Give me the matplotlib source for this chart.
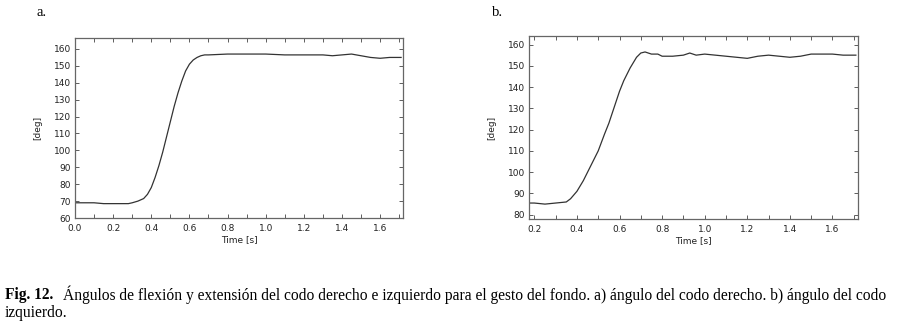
import matplotlib
matplotlib.use("Agg")
import matplotlib.pyplot as plt
from matplotlib.ticker import MultipleLocator, FormatStrFormatter

# panel a: right elbow angle
time_a = [0.0, 0.1, 0.15, 0.2, 0.28, 0.3, 0.33, 0.36, 0.38, 0.4, 0.42, 0.44, 0.46,
          0.48, 0.5, 0.52, 0.54, 0.56, 0.58, 0.6, 0.62, 0.64, 0.66, 0.68, 0.7,
          0.8, 0.9, 1.0, 1.1, 1.2, 1.3, 1.35, 1.4, 1.45, 1.5, 1.55, 1.6, 1.65, 1.71]
angle_a = [69, 69, 68.5, 68.5, 68.5, 69, 70, 71.5, 74, 78, 84, 91, 99,
           108, 117, 126, 134, 141, 147, 151, 153.5, 155, 156, 156.5, 156.5,
           157, 157, 157, 156.5, 156.5, 156.5, 156, 156.5, 157, 156, 155, 154.5, 155, 155]

# panel b: left elbow angle
time_b = [0.175, 0.2, 0.25, 0.3, 0.35, 0.37, 0.4, 0.43, 0.46, 0.5, 0.53, 0.55, 0.57,
          0.6, 0.62, 0.65, 0.68, 0.7, 0.72, 0.75, 0.78, 0.8, 0.85, 0.9, 0.93, 0.96,
          1.0, 1.05, 1.1, 1.2, 1.25, 1.3, 1.35, 1.4, 1.45, 1.5, 1.6, 1.65, 1.71]
angle_b = [85.5, 85.5, 85, 85.5, 86, 87.5, 91, 96, 102, 110, 118, 123, 129,
           138, 143, 149, 154, 156, 156.5, 155.5, 155.5, 154.5, 154.5, 155, 156, 155,
           155.5, 155, 154.5, 153.5, 154.5, 155, 154.5, 154, 154.5, 155.5, 155.5, 155, 155]

W, H = 897, 323
fig = plt.figure(figsize=(W / 100, H / 100), dpi=100)


def px_axes(left, top, right, bottom):
    return fig.add_axes([left / W, 1 - bottom / H, (right - left) / W, (bottom - top) / H])


def style(ax, xlim, ylim):
    ax.set_xlim(*xlim)
    ax.set_ylim(*ylim)
    ax.xaxis.set_major_locator(MultipleLocator(0.2))
    ax.xaxis.set_minor_locator(MultipleLocator(0.1))
    ax.xaxis.set_major_formatter(FormatStrFormatter("%.1f"))
    ax.yaxis.set_major_locator(MultipleLocator(10))
    ax.tick_params(which="both", direction="in", top=True, right=True,
                   length=3, width=0.6, color="#444444",
                   labelsize=6.5, labelcolor="#222222")
    ax.tick_params(axis="x", pad=4)
    ax.tick_params(axis="y", pad=3)
    for sp in ax.spines.values():
        sp.set_color("#666666")
        sp.set_linewidth(0.9)
    ax.set_xlabel("Time [s]", fontsize=6.5, labelpad=2, color="#222222")
    ax.set_ylabel("[deg]", fontsize=6.5, labelpad=8, color="#222222")


ax_a = px_axes(75, 38, 403, 218)
ax_a.plot(time_a, angle_a, color="#333333", lw=0.9)
style(ax_a, (0, 1.72), (60, 166.5))

ax_b = px_axes(529, 36, 858, 219)
ax_b.plot(time_b, angle_b, color="#333333", lw=0.9)
style(ax_b, (0.175, 1.72), (78, 164))

serif = "Liberation Serif"
fig.text(36 / W, 1 - 13 / H, "a.", fontsize=10.5, family=serif, va="center")
fig.text(492 / W, 1 - 13 / H, "b.", fontsize=10.5, family=serif, va="center")

cap_size = 11.2
fig.text(5 / W, 1 - 295 / H, "Fig. 12.", fontsize=cap_size, family=serif,
         weight="bold", va="center")
fig.text(63 / W, 1 - 295 / H,
         "Ángulos de flexión y extensión del codo derecho e izquierdo para el gesto "
         "del fondo. a) ángulo del codo derecho. b) ángulo del codo",
         fontsize=cap_size, family=serif, va="center")
fig.text(5 / W, 1 - 313 / H, "izquierdo.", fontsize=cap_size, family=serif, va="center")

fig.savefig("out.png", dpi=100)
